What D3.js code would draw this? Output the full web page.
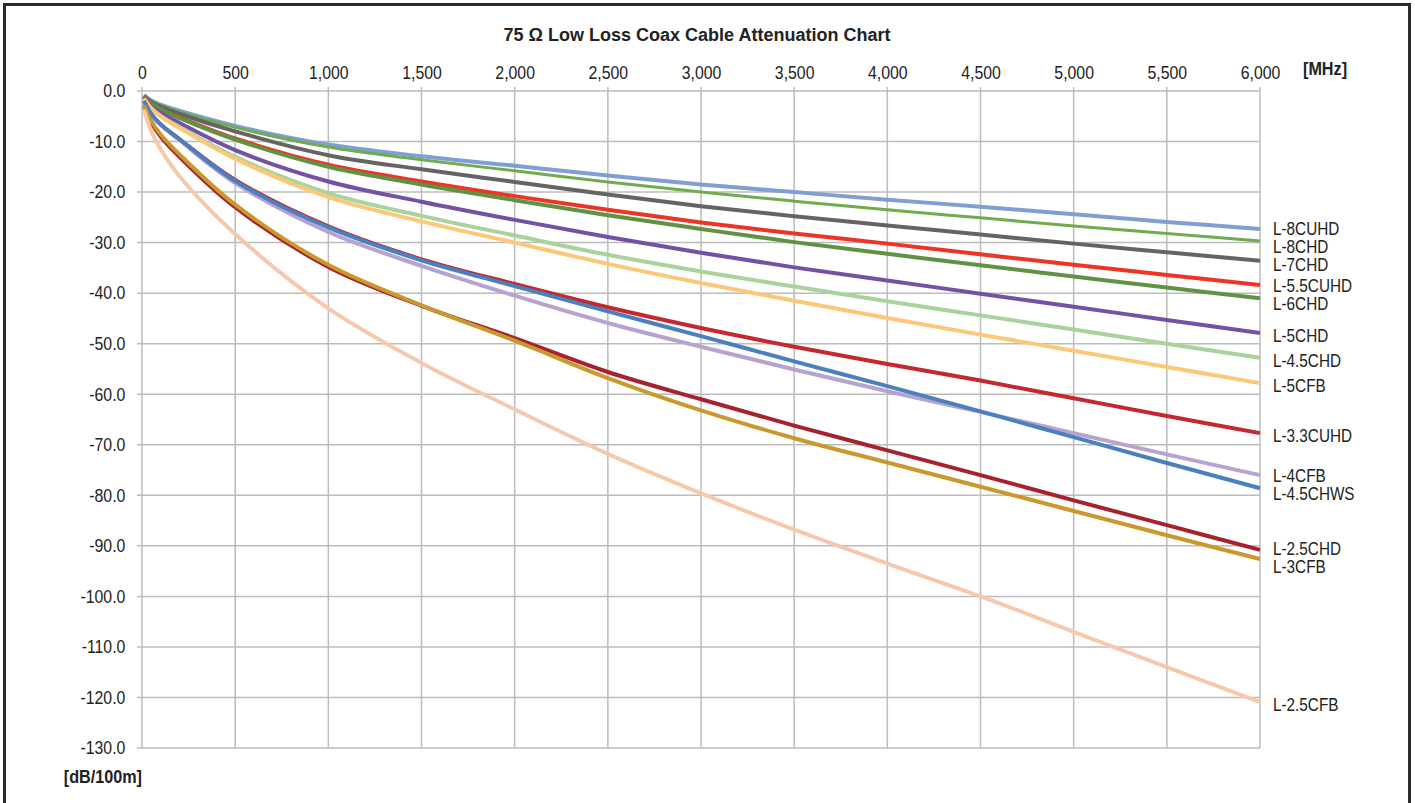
<!DOCTYPE html>
<html>
<head>
    <title>75 Ohm Low Loss Coax Cable Attenuation Chart</title>
    <script src="https://d3js.org/d3.v7.min.js"></script>
    <style>
        body { margin: 0; background: #fff; }
        .grid line { stroke: #bcbcbc; stroke-width: 1.5; }
        .axis text, .lbl { font-family: 'Liberation Sans', Arial, sans-serif; font-size: 18px; fill: #222; }
        .bold { font-weight: bold; }
    </style>
</head>
<body>
    <script>
        // frequency points [MHz]
        var freqs = [10, 50, 100, 200, 500, 1000, 1500, 2000, 2500, 3000, 3500, 4000, 4500, 5000, 5500, 6000];

        // attenuation [dB/100m]
        var L8CUHD  = [-0.8, -1.9, -2.7, -3.9, -6.9, -10.6, -12.9, -14.8, -16.7, -18.5, -20.0, -21.5, -22.9, -24.4, -25.9, -27.3];
        var L8CHD   = [-0.9, -2.0, -2.8, -4.1, -7.2, -11.1, -13.6, -15.8, -18.0, -20.0, -21.8, -23.5, -25.1, -26.7, -28.2, -29.7];
        var L7CHD   = [-1.0, -2.2, -3.1, -4.5, -8.0, -12.7, -15.5, -18.0, -20.5, -22.8, -24.8, -26.6, -28.4, -30.2, -31.9, -33.6];
        var L55CUHD = [-1.1, -2.5, -3.6, -5.2, -9.4, -14.6, -17.9, -20.8, -23.5, -26.0, -28.2, -30.2, -32.3, -34.4, -36.4, -38.4];
        var L6CHD   = [-1.1, -2.5, -3.6, -5.3, -9.6, -15.0, -18.5, -21.6, -24.6, -27.3, -29.9, -32.2, -34.5, -36.7, -38.9, -41.0];
        var L5CHD   = [-1.3, -3.0, -4.3, -6.3, -11.7, -17.9, -21.9, -25.5, -28.9, -32.0, -34.9, -37.5, -40.1, -42.7, -45.3, -47.9];
        var L45CHD  = [-1.5, -3.4, -4.9, -7.1, -13.0, -20.2, -24.7, -28.6, -32.4, -35.7, -38.7, -41.6, -44.4, -47.2, -50.0, -52.8];
        var L5CFB   = [-1.5, -3.5, -5.0, -7.3, -13.4, -21.0, -25.8, -30.0, -34.2, -38.0, -41.5, -44.9, -48.2, -51.4, -54.6, -57.8];
        var L33CUHD = [-2.0, -4.6, -6.6, -9.5, -17.6, -26.8, -33.3, -38.2, -42.8, -46.9, -50.6, -54.0, -57.3, -60.8, -64.3, -67.7];
        var L4CFB   = [-2.0, -4.7, -6.7, -9.7, -18.2, -27.9, -34.6, -40.5, -45.9, -50.6, -55.1, -59.4, -63.5, -67.7, -71.9, -76.0];
        var L45CHWS = [-2.0, -4.6, -6.6, -9.5, -17.8, -27.0, -33.5, -38.6, -43.6, -48.5, -53.5, -58.4, -63.4, -68.5, -73.6, -78.6];
        var L25CHD  = [-2.9, -6.3, -9.0, -13.0, -23.0, -34.8, -42.5, -48.9, -55.6, -61.0, -66.2, -71.1, -76.0, -81.0, -85.9, -90.8];
        var L3CFB   = [-2.8, -6.0, -8.6, -12.5, -22.5, -34.4, -42.4, -49.4, -56.8, -63.2, -68.7, -73.5, -78.3, -83.1, -87.9, -92.6];
        var L25CFB  = [-3.7, -8.0, -11.5, -16.8, -28.3, -43.0, -53.8, -63.0, -71.8, -79.6, -86.8, -93.5, -100.0, -107.0, -114.0, -120.9];

        var names  = ["L-8CUHD", "L-8CHD", "L-7CHD", "L-5.5CUHD", "L-6CHD", "L-5CHD", "L-4.5CHD", "L-5CFB",
                      "L-3.3CUHD", "L-4CFB", "L-4.5CHWS", "L-2.5CHD", "L-3CFB", "L-2.5CFB"];
        var values = [L8CUHD, L8CHD, L7CHD, L55CUHD, L6CHD, L5CHD, L45CHD, L5CFB,
                      L33CUHD, L4CFB, L45CHWS, L25CHD, L3CFB, L25CFB];
        var colors = ["#7f9fd3", "#6fab4f", "#646464", "#ee3425", "#5f9343", "#7451a4", "#a9d39a", "#fcc878",
                      "#c5282e", "#b6a3d0", "#4a7fc0", "#a8212e", "#c9992e", "#f6c9ad"];
        var widths = [4, 3, 4, 4, 4, 4, 4, 4, 4, 4, 4, 4, 4, 4];

        var xTicks = d3.range(0, 6001, 500);
        var yTicks = d3.range(0, -131, -10);

        var W = 1415, H = 803;
        var svg = d3.select("body").append("svg")
            .attr("width", W)
            .attr("height", H);

        // outer frame
        svg.append("rect")
            .attr("x", 4.5).attr("y", 4.5)
            .attr("width", 1405).attr("height", 810)
            .attr("fill", "none")
            .attr("stroke", "#2b2b2b")
            .attr("stroke-width", 3);

        var x = d3.scaleLinear().domain([0, 6000]).range([142, 1260]);
        var y = d3.scaleLinear().domain([0, -130]).range([91, 748]);

        // grid
        var grid = svg.append("g").attr("class", "grid");
        grid.selectAll(".v").data(xTicks).enter().append("line")
            .attr("x1", function(d) { return x(d); })
            .attr("x2", function(d) { return x(d); })
            .attr("y1", y(0) - 4)
            .attr("y2", y(-130));
        grid.selectAll(".h").data(yTicks).enter().append("line")
            .attr("x1", x(0) - 5)
            .attr("x2", x(6000))
            .attr("y1", function(d) { return y(d); })
            .attr("y2", function(d) { return y(d); });

        // axes (labels only, grid draws the lines)
        svg.append("g").attr("class", "axis")
            .attr("transform", "translate(0," + (y(0) - 9) + ")")
            .call(d3.axisTop(x).tickValues(xTicks).tickFormat(d3.format(",")).tickSize(0));
        svg.append("g").attr("class", "axis")
            .attr("transform", "translate(" + (x(0) - 14) + ",0)")
            .call(d3.axisLeft(y).tickValues(yTicks).tickFormat(function(d) { return d.toFixed(1); }).tickSize(0));
        svg.selectAll(".axis .domain").remove();
        svg.selectAll(".axis text")
            .attr("font-family", null).attr("font-size", null)
            .attr("transform", "scale(0.88,1)");

        // series
        var series = names.map(function(n, i) {
            return { name: n, color: colors[i], width: widths[i],
                     pts: freqs.map(function(f, j) { return [f, values[i][j]]; }) };
        });

        var line = d3.line()
            .x(function(d) { return x(d[0]); })
            .y(function(d) { return y(d[1]); })
            .curve(d3.curveCatmullRom.alpha(0.5));

        svg.append("g").selectAll("path").data(series).enter().append("path")
            .attr("d", function(d) { return line(d.pts); })
            .attr("fill", "none")
            .attr("stroke", function(d) { return d.color; })
            .attr("stroke-width", function(d) { return d.width; })
            .attr("stroke-linejoin", "round");

        // end labels, spread so they don't overlap
        var lab = series.map(function(s) {
            return { name: s.name, y: y(s.pts[s.pts.length - 1][1]) + 3 };
        });
        lab.sort(function(a, b) { return a.y - b.y; });
        for (var k = 0; k < 200; k++) {
            for (var i = 1; i < lab.length; i++) {
                var gap = lab[i].y - lab[i - 1].y;
                if (gap < 18) {
                    var d = (18 - gap) / 2;
                    lab[i - 1].y -= d;
                    lab[i].y += d;
                }
            }
        }
        svg.append("g").selectAll("text").data(lab).enter().append("text")
            .attr("class", "lbl")
            .attr("transform", function(d) { return "translate(" + (x(6000) + 13) + "," + d.y + ") scale(0.85,1)"; })
            .attr("dy", "0.35em")
            .text(function(d) { return d.name; });

        // titles
        svg.append("text")
            .attr("class", "lbl bold")
            .attr("x", 697).attr("y", 41)
            .attr("text-anchor", "middle")
            .text("75 \u03A9 Low Loss Coax Cable Attenuation Chart");
        svg.append("text")
            .attr("class", "lbl bold")
            .attr("transform", "translate(1303,75) scale(0.9,1)")
            .text("[MHz]");
        svg.append("text")
            .attr("class", "lbl bold")
            .attr("transform", "translate(" + x(0) + ",783) scale(0.9,1)")
            .attr("text-anchor", "end")
            .text("[dB/100m]");
    </script>
</body>
</html>
